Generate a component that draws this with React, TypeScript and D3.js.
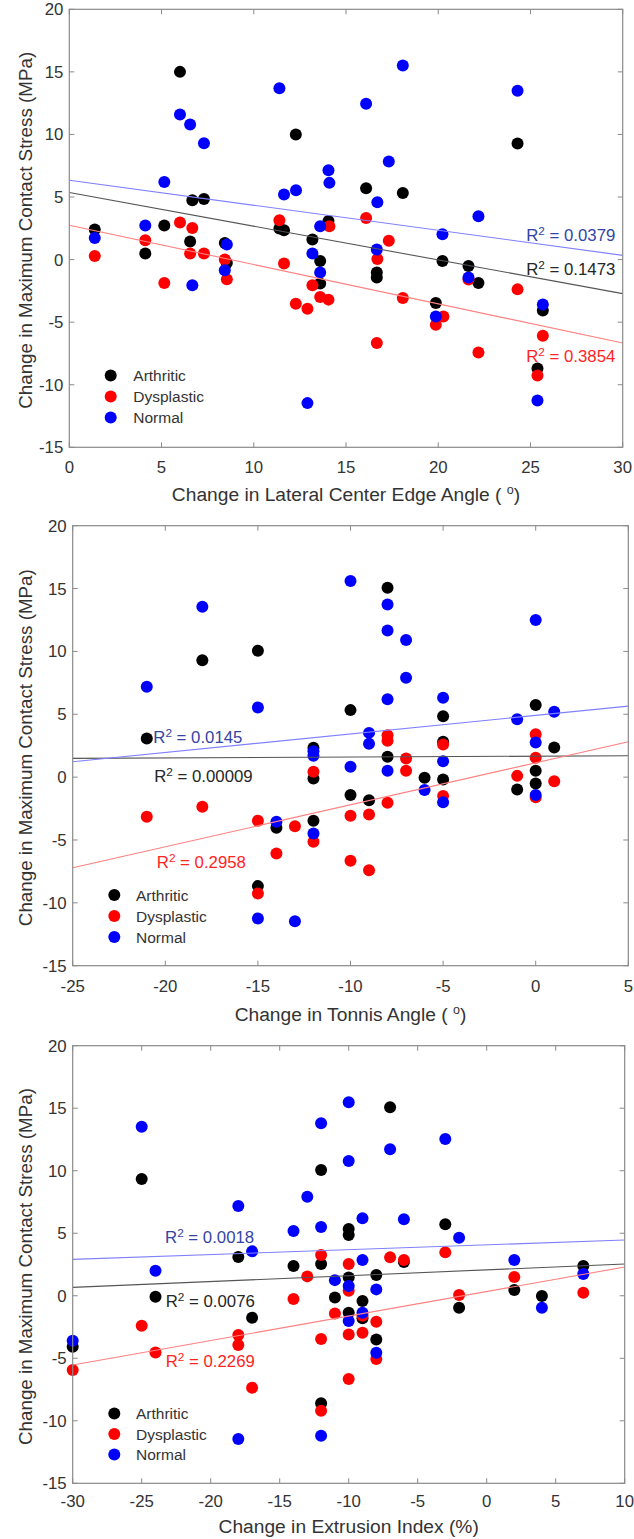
import React from 'react';
import * as d3 from 'd3';

type Pt = [number, number];

const groupNames = ['Arthritic', 'Dysplastic', 'Normal'];
const stressTicks = [-15, -10, -5, 0, 5, 10, 15, 20];

// ---------- Panel 1: Lateral Center Edge Angle ----------
const lceaTicks = [0, 5, 10, 15, 20, 25, 30];
const lceaArthritic: Pt[] = [
  [1.38, 2.4], [4.12, 0.48], [5.15, 2.72], [6.0, 15.0], [6.55, 1.44], [6.67, 4.74], [7.3, 4.85],
  [8.43, 1.33], [8.54, -0.27], [11.39, 2.48], [11.64, 2.34], [12.28, 10.0], [13.18, 1.6], [13.6, -0.11],
  [13.6, -1.92], [14.05, 3.09], [16.09, 5.7], [16.67, -1.04], [16.67, -1.44], [18.08, 5.33], [19.87, -3.47],
  [20.23, -0.11], [21.64, -0.51], [22.18, -1.87], [24.3, 9.28], [25.38, -8.7], [25.67, -4.06],
];
const lceaDysplastic: Pt[] = [
  [1.38, 0.29], [4.12, 1.54], [5.15, -1.87], [6.0, 2.96], [6.55, 0.48], [6.67, 2.53], [7.3, 0.48],
  [8.43, 0.0], [8.54, -1.58], [11.39, 3.14], [11.64, -0.32], [12.28, -3.52], [12.91, -3.92], [13.18, -2.06],
  [13.6, -2.99], [14.05, -3.2], [14.1, 2.66], [16.09, 3.33], [16.67, -6.67], [16.7, 0.05], [17.32, 1.5],
  [18.08, -3.07], [19.87, -5.2], [20.28, -4.54], [21.64, -1.6], [22.18, -7.42], [24.3, -2.38], [25.38, -9.26],
  [25.67, -6.08],
];
const lceaNormal: Pt[] = [
  [1.38, 1.73], [4.12, 2.72], [5.15, 6.2], [6.0, 11.6], [6.55, 10.8], [6.67, -2.06], [7.3, 9.3],
  [8.43, -0.86], [8.54, 1.2], [11.39, 13.7], [11.64, 5.2], [12.29, 5.54], [12.91, -11.47], [13.18, 0.48],
  [13.6, 2.66], [13.6, -1.04], [14.05, 7.14], [14.1, 6.13], [16.09, 12.45], [16.67, 0.8], [16.7, 4.58],
  [17.32, 7.84], [18.08, 15.5], [19.87, -4.54], [20.23, 2.02], [21.64, -1.44], [22.18, 3.46], [24.3, 13.5],
  [25.38, -11.26], [25.67, -3.58],
];
// fit lines: [x0, y0, x1, y1]
const lceaFitArthritic = [0, 5.36, 30, -2.72];
const lceaFitDysplastic = [0, 2.74, 30, -6.67];
const lceaFitNormal = [0, 6.34, 30, 0.34];
const lceaR2 = ['0.1473', '0.3854', '0.0379'];

// ---------- Panel 2: Tonnis Angle ----------
const tonnisTicks = [-25, -20, -15, -10, -5, 0, 5];
const tonnisArthritic: Pt[] = [
  [-21, 3.08], [-18, 9.3], [-15, 10.05], [-15, -8.67], [-14, -4.03], [-12, 2.33], [-12, -0.1],
  [-12, -3.47], [-10, 5.33], [-10, -1.43], [-9, -1.83], [-8, 15.06], [-8, 1.62], [-6, -0.05],
  [-5, 4.85], [-5, 2.81], [-5, -0.19], [-1, -0.98], [0, 5.73], [0, 0.5], [0, -0.5], [1, 2.36],
];
const tonnisDysplastic: Pt[] = [
  [-21, -3.16], [-18, -2.36], [-15, -3.47], [-15, -9.25], [-14, -6.07], [-13, -3.9], [-12, 0.42],
  [-12, -5.14], [-10, -3.08], [-10, -6.66], [-9, -2.97], [-9, -7.4], [-8, 3.34], [-8, 2.9], [-8, -2.04],
  [-7, 1.49], [-7, 0.5], [-5, 2.6], [-5, -1.5], [-1, 0.1], [0, 3.42], [0, 1.54], [0, -1.6], [1, -0.32],
];
const tonnisNormal: Pt[] = [
  [-21, 7.18], [-18, 13.55], [-15, 5.54], [-15, -11.24], [-14, -3.55], [-13, -11.46], [-12, 2.05],
  [-12, 1.7], [-12, -4.48], [-10, 15.6], [-10, 0.82], [-9, 3.52], [-9, 2.65], [-8, 13.74], [-8, 11.67],
  [-8, 6.2], [-8, 0.5], [-7, 10.9], [-7, 7.9], [-6, -1.03], [-5, 6.31], [-5, 1.27], [-5, -2.0],
  [-1, 4.61], [0, 12.5], [0, 2.76], [0, -1.43], [1, 5.2],
];
const tonnisFitArthritic = [-25, 1.49, 5, 1.7];
const tonnisFitDysplastic = [-25, -7.21, 5, 2.81];
const tonnisFitNormal = [-25, 1.22, 5, 5.65];
const tonnisR2 = ['0.00009', '0.2958', '0.0145'];

// ---------- Panel 3: Extrusion Index ----------
const extrusionTicks = [-30, -25, -20, -15, -10, -5, 0, 5, 10];
const extrusionArthritic: Pt[] = [
  [-30, -4.08], [-25, 9.34], [-24, -0.08], [-18, 3.1], [-17, -1.76], [-14, 2.38], [-12, 10.06],
  [-12, 2.54], [-12, -8.6], [-11, -0.13], [-10, 5.34], [-10, 4.86], [-10, 1.47], [-10, -1.36],
  [-9, -0.42], [-9, -1.8], [-8, 1.66], [-8, -3.49], [-7, 15.07], [-6, 2.7], [-3, 5.71], [-2, -0.96],
  [2, 0.46], [4, -0.02], [7, 2.38],
];
const extrusionDysplastic: Pt[] = [
  [-30, -5.94], [-25, -2.4], [-24, -4.53], [-18, -3.14], [-18, -3.94], [-17, -7.36], [-14, -0.26],
  [-13, 1.55], [-12, 3.26], [-12, -3.46], [-12, -9.2], [-11, -1.41], [-10, 2.54], [-10, 0.4],
  [-10, -3.09], [-10, -6.66], [-9, -1.6], [-9, -2.96], [-8, -2.08], [-8, -5.06], [-7, 3.07],
  [-6, 2.86], [-3, 3.47], [-2, 0.06], [2, 1.5], [7, 0.24],
];
const extrusionNormal: Pt[] = [
  [-30, -3.6], [-25, 13.52], [-24, 2.0], [-18, 7.18], [-18, -11.46], [-17, 3.55], [-14, 5.18],
  [-13, 7.92], [-12, 13.8], [-12, 5.5], [-12, -11.2], [-11, 1.25], [-10, 15.47], [-10, 10.78],
  [-10, 0.78], [-10, -2.02], [-9, 6.19], [-9, 2.86], [-9, -1.36], [-8, 0.51], [-8, -4.56],
  [-7, 11.71], [-6, 6.11], [-3, 12.54], [-2, 4.64], [2, 2.86], [4, -0.96], [7, 1.74],
];
const extrusionFitArthritic = [-30, 0.67, 10, 2.54];
const extrusionFitDysplastic = [-30, -5.54, 10, 2.3];
const extrusionFitNormal = [-30, 2.91, 10, 4.46];
const extrusionR2 = ['0.0076', '0.2269', '0.0018'];

// ---------- styles / layout ----------
const FONT = '"Liberation Sans", Arial, Helvetica, sans-serif';
const markerColors = ['#000000', '#ff0000', '#0000ff'];
const fitColors = ['#555555', '#ff8080', '#8080ff'];
const labelColors = ['#262626', '#ff2424', '#3444a4'];
const AXIS = '#8a8a8a';
const TEXT = '#333333';

interface PanelCfg {
  xDomain: [number, number];
  xTicks: number[];
  xTitle: string;
  deg: boolean;
  box: { left: number; right: number; top: number; bottom: number };
  tickLabelY: number;
  titleY: number;
  series: Pt[][];
  fits: number[][];
  r2: string[];
  labelAt: [number, number][];
  labelAnchor: 'start' | 'end';
  legend: { mx: number; tx: number; y0: number; dy: number };
}

const panels: PanelCfg[] = [
  {
    xDomain: [0, 30], xTicks: lceaTicks, xTitle: 'Change in Lateral Center Edge Angle ( ', deg: true,
    box: { left: 69.3, right: 622.7, top: 9.3, bottom: 447.3 }, tickLabelY: 473.3, titleY: 501,
    series: [lceaArthritic, lceaDysplastic, lceaNormal],
    fits: [lceaFitArthritic, lceaFitDysplastic, lceaFitNormal], r2: lceaR2,
    labelAt: [[29.6, -1.25], [29.6, -8.2], [29.6, 1.45]], labelAnchor: 'end',
    legend: { mx: 110.7, tx: 133.3, y0: 375.5, dy: 21 },
  },
  {
    xDomain: [-25, 5], xTicks: tonnisTicks, xTitle: 'Change in Tonnis Angle ( ', deg: true,
    box: { left: 72.7, right: 628.3, top: 525.7, bottom: 965.7 }, tickLabelY: 991.7, titleY: 1021,
    series: [tonnisArthritic, tonnisDysplastic, tonnisNormal],
    fits: [tonnisFitArthritic, tonnisFitDysplastic, tonnisFitNormal], r2: tonnisR2,
    labelAt: [[-20.6, -0.42], [-20.46, -7.26], [-20.65, 2.68]], labelAnchor: 'start',
    legend: { mx: 114.3, tx: 136, y0: 895, dy: 21 },
  },
  {
    xDomain: [-30, 10], xTicks: extrusionTicks, xTitle: 'Change in Extrusion Index (%)', deg: false,
    box: { left: 72.7, right: 624.7, top: 1045.7, bottom: 1483.3 }, tickLabelY: 1507.3, titleY: 1533,
    series: [extrusionArthritic, extrusionDysplastic, extrusionNormal],
    fits: [extrusionFitArthritic, extrusionFitDysplastic, extrusionFitNormal], r2: extrusionR2,
    labelAt: [[-23.26, -0.93], [-23.26, -5.73], [-23.31, 4.19]], labelAnchor: 'start',
    legend: { mx: 114.3, tx: 136, y0: 1413.5, dy: 20.5 },
  },
];

function Panel({ cfg }: { cfg: PanelCfg }) {
  const { box } = cfg;
  const x = d3.scaleLinear().domain(cfg.xDomain).range([box.left, box.right]);
  const y = d3.scaleLinear().domain([-15, 20]).range([box.bottom, box.top]);
  const line = d3.line<Pt>().x((d) => x(d[0])).y((d) => y(d[1]));
  const tl = 5;
  const cy = (box.top + box.bottom) / 2;
  const cx = (box.left + box.right) / 2;
  return (
    <g fontFamily={FONT}>
      {/* points: arthritic, dysplastic, normal */}
      {cfg.series.map((s, gi) => (
        <g key={gi} fill={markerColors[gi]}>
          {s.map((d, i) => (
            <circle key={i} cx={x(d[0])} cy={y(d[1])} r={6} />
          ))}
        </g>
      ))}
      {/* fit lines */}
      {cfg.fits.map((f, gi) => (
        <path key={gi} d={line([[f[0], f[1]], [f[2], f[3]]]) || ''} stroke={fitColors[gi]} strokeWidth={1.1} fill="none" />
      ))}
      {/* box and ticks */}
      <rect x={box.left} y={box.top} width={box.right - box.left} height={box.bottom - box.top} fill="none" stroke={AXIS} strokeWidth={1.2} />
      {cfg.xTicks.map((t) => (
        <g key={'x' + t}>
          <line x1={x(t)} x2={x(t)} y1={box.bottom} y2={box.bottom - tl} stroke={AXIS} />
          <line x1={x(t)} x2={x(t)} y1={box.top} y2={box.top + tl} stroke={AXIS} />
          <text x={x(t)} y={cfg.tickLabelY} textAnchor="middle" fontSize={16.8} fill={TEXT}>{String(t)}</text>
        </g>
      ))}
      {stressTicks.map((t) => (
        <g key={'y' + t}>
          <line x1={box.left} x2={box.left + tl} y1={y(t)} y2={y(t)} stroke={AXIS} />
          <line x1={box.right} x2={box.right - tl} y1={y(t)} y2={y(t)} stroke={AXIS} />
          <text x={box.left - 6} y={y(t)} dy="0.36em" textAnchor="end" fontSize={16.8} fill={TEXT}>{String(t)}</text>
        </g>
      ))}
      {/* axis titles */}
      <text x={cx} y={cfg.titleY} textAnchor="middle" fontSize={19.2} fill={TEXT}>
        {cfg.xTitle}
        {cfg.deg && (
          <>
            <tspan fontSize={12.5} dy={-7}>o</tspan>
            <tspan dy={7}>)</tspan>
          </>
        )}
      </text>
      <text transform={`translate(25,${cy + 2}) rotate(-90)`} dy="0.35em" textAnchor="middle" fontSize={18.8} fill={TEXT}>
        Change in Maximum Contact Stress (MPa)
      </text>
      {/* R^2 labels */}
      {cfg.r2.map((r, gi) => (
        <text key={'r' + gi} x={x(cfg.labelAt[gi][0])} y={y(cfg.labelAt[gi][1])} textAnchor={cfg.labelAnchor} fontSize={16.8} fill={labelColors[gi]}>
          R<tspan fontSize={11.8} dy={-6}>2</tspan>
          <tspan dy={6}>{' = ' + r}</tspan>
        </text>
      ))}
      {/* legend */}
      {groupNames.map((n, gi) => (
        <g key={n}>
          <circle cx={cfg.legend.mx} cy={cfg.legend.y0 + gi * cfg.legend.dy} r={6} fill={markerColors[gi]} />
          <text x={cfg.legend.tx} y={cfg.legend.y0 + gi * cfg.legend.dy} dy="0.36em" fontSize={15.5} fill={TEXT}>{n}</text>
        </g>
      ))}
    </g>
  );
}

export default function App() {
  return (
    <svg width={634} height={1539} style={{ position: 'absolute', left: 0, top: 0, background: '#fff' }}>
      <rect x={0} y={0} width={634} height={1539} fill="#fff" />
      {panels.map((p, i) => (
        <Panel key={i} cfg={p} />
      ))}
    </svg>
  );
}
